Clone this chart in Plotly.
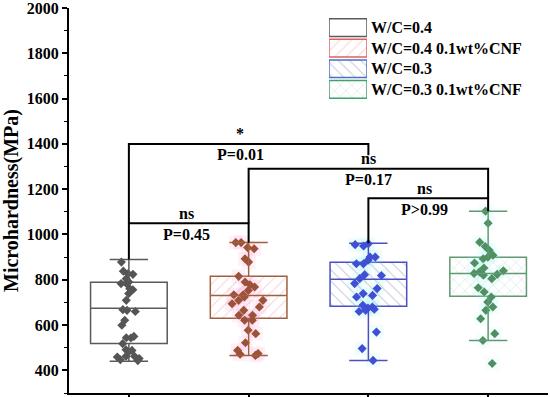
import plotly.graph_objects as go

groups = ['W/C=0.4', 'W/C=0.4 0.1wt%CNF', 'W/C=0.3', 'W/C=0.3 0.1wt%CNF']

# box statistics (MPa)
q1 = [519, 630, 683, 727]
median = [674, 731, 802, 828]
q3 = [789, 815, 877, 899]
whisker_low = [440, 466, 444, 532]
whisker_high = [890, 965, 961, 1102]

# individual measurements (MPa)
pts_wc04 = [878, 838, 827, 824, 805, 790, 783, 783, 756, 760, 739, 709, 665, 668, 660,
            621, 599, 550, 544, 543, 518, 491, 481, 488, 462, 459, 462, 447, 452, 443]
pts_wc04_cnf = [964, 964, 942, 937, 893, 878, 815, 790, 778, 768, 753, 734, 734, 724, 709,
                709, 694, 680, 665, 643, 643, 621, 621, 577, 562, 522, 488, 474, 471, 466]
pts_wc03 = [959, 955, 949, 900, 900, 886, 871, 871, 822, 819, 805, 783, 761, 739, 731,
            724, 687, 680, 675, 670, 665, 660, 569, 496, 444]
pts_wc03_cnf = [1103, 1050, 966, 947, 930, 908, 900, 893, 874, 852, 840, 834, 828, 824, 820,
                805, 765, 746, 724, 702, 680, 665, 628, 562, 532, 430]
points = [pts_wc04, pts_wc04_cnf, pts_wc03, pts_wc03_cnf]

# significance brackets: (left group, right group, height, left drop, right drop, top label, p label)
brackets = [
    (0, 2, 1400, 1050, 1350, '*', 'P=0.01'),
    (1, 3, 1290, 1050, 1160, 'ns', 'P=0.17'),
    (2, 3, 1160, 961, 1102, 'ns', 'P>0.99'),
    (0, 1, 1050, 890, 965, 'ns', 'P=0.45'),
]

edge = ['#5a5a5a', '#a0603e', '#4a50c4', '#5f9a74']
legend_edge = ['#5a5a5a', '#e06060', '#4a70c8', '#40a070']
dot = ['#555555', '#9c5238', '#3f4fd6', '#4f8f62']
glow = ['rgba(200,200,200,0.0)', 'rgba(255,150,205,0.14)', 'rgba(130,240,240,0.12)', 'rgba(160,245,235,0.12)']
hatch = ['', '/', '\\', 'x']
hatch_col = ['#ffffff', '#f4a0b0', '#8c90b4', '#a0c4ac']

serif = 'Liberation Serif, Times New Roman, serif'
bold = dict(family=serif, color='black', weight='bold')
bw = 0.32   # half box width
cw = 0.16   # half cap width

fig = go.Figure()

for i, name in enumerate(groups):
    fig.add_trace(go.Bar(
        x=[i], y=[q3[i] - q1[i]], base=[q1[i]], width=2 * bw, name=name, showlegend=False,
        marker=dict(color='white', line=dict(color=edge[i], width=1.5),
                    pattern=dict(shape=hatch[i], fgcolor=hatch_col[i], bgcolor='white',
                                 size=8, solidity=0.12)),
        hoverinfo='skip'))

for i in range(4):
    # soft halo behind the points, then the points (same jitter)
    for col, size, sym in [(glow[i], 14, 'square'), (dot[i], 7, 'diamond')]:
        fig.add_trace(go.Box(
            x=[i] * len(points[i]), y=points[i], boxpoints='all', jitter=0.45, pointpos=0,
            width=2 * bw, fillcolor='rgba(0,0,0,0)', line=dict(width=0, color='rgba(0,0,0,0)'),
            marker=dict(symbol=sym, size=size, color=col), showlegend=False, hoverinfo='skip'))

for i in range(4):
    xs = [i - bw, i + bw, None, i, i, None, i - cw, i + cw, None, i, i, None, i - cw, i + cw]
    ys = [median[i], median[i], None, q3[i], whisker_high[i], None, whisker_high[i], whisker_high[i], None,
          q1[i], whisker_low[i], None, whisker_low[i], whisker_low[i]]
    fig.add_trace(go.Scatter(x=xs, y=ys, mode='lines', line=dict(color=edge[i], width=1.5),
                             showlegend=False, hoverinfo='skip'))

label_pos = [0.93, 2.0, 2.47, 0.48]
for (a, b, h, da, db, top, plab), xm in zip(brackets, label_pos):
    fig.add_trace(go.Scatter(x=[a, a, b, b], y=[da, h, h, db], mode='lines',
                             line=dict(color='black', width=2), showlegend=False, hoverinfo='skip'))
    fig.add_annotation(x=xm, y=h, yshift=10, text=top, showarrow=False,
                       font=dict(size=16, **bold))
    fig.add_annotation(x=xm, y=h, yshift=-11, text=plab, showarrow=False, font=dict(size=16, **bold))

# legend swatches drawn on a small inset axis so they keep the wide hatched look
for i, name in enumerate(groups):
    fig.add_trace(go.Bar(
        x=[1], y=[3 - i], base=[0], width=0.86, orientation='h', xaxis='x2', yaxis='y2',
        showlegend=False, hoverinfo='skip',
        marker=dict(color='white', line=dict(color=legend_edge[i], width=1.5),
                    pattern=dict(shape=hatch[i], fgcolor=hatch_col[i], bgcolor='white',
                                 size=8, solidity=0.12))))
    fig.add_annotation(x=0.627, xref='paper', y=3 - i, yref='y2', text=name, showarrow=False,
                       xanchor='left', font=dict(size=16, **bold))

fig.update_layout(
    width=550, height=397, barmode='overlay', showlegend=False,
    margin=dict(l=69, r=2, t=8, b=4, autoexpand=False),
    plot_bgcolor='white', paper_bgcolor='white',
    xaxis=dict(range=[-0.5, 3.5], tickvals=[0, 1, 2, 3], showticklabels=False, automargin=False,
               showline=True, linecolor='black', linewidth=2, ticks='outside', ticklen=5,
               tickwidth=2, tickcolor='black', showgrid=False, zeroline=False),
    yaxis=dict(range=[300, 2000], dtick=200, tick0=0, showline=True, linecolor='black', linewidth=2,
               ticks='outside', ticklen=5, tickwidth=1.5, tickcolor='black', automargin=False,
               ticklabeloverflow='allow',
               minor=dict(dtick=100, ticks='outside', ticklen=3, tickcolor='black', tickwidth=1),
               showgrid=False, zeroline=False,
               tickfont=dict(size=16, **bold),
               title=dict(text='Microhardness(MPa)', standoff=8, font=dict(size=20, **bold))),
    xaxis2=dict(domain=[0.5428, 0.6221], range=[0, 1], anchor='y2', visible=False, fixedrange=True),
    yaxis2=dict(domain=[0.762, 0.976], range=[-0.5, 3.5], anchor='x2', visible=False, fixedrange=True),
)

fig.write_html('out.html', config={'displayModeBar': False},
               post_script="document.body.style.margin='0';")
